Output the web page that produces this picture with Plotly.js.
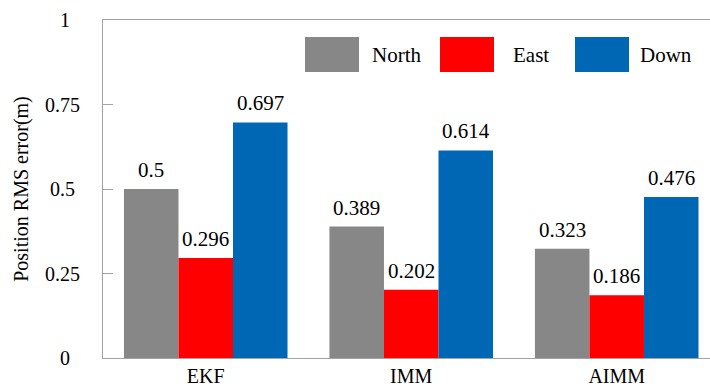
<!DOCTYPE html>
<html>
<head>
<meta charset="utf-8">
<script src="https://cdn.plot.ly/plotly-3.0.1.min.js"></script>
<style>
  html, body { margin: 0; padding: 0; background: #fff; }
  #chart { width: 710px; height: 387px; }
</style>
</head>
<body>
<div id="chart"></div>
<script>
// Position RMS error per filter and axis
var filters = ["EKF", "IMM", "AIMM"];
var seriesNames = ["North", "East", "Down"];
var north = [0.5, 0.389, 0.323];
var east = [0.296, 0.202, 0.186];
var down = [0.697, 0.614, 0.476];
var yTickVals = [0, 0.25, 0.5, 0.75, 1];
var yTickText = ["0", "0.25", "0.5", "0.75", "1"];

var seriesValues = [north, east, down];
var seriesColors = ["#878787", "#ff0000", "#0067b5"];

var FONT = "Liberation Serif";
var W = 710, H = 387;
var M = { l: 103, r: 0, t: 20, b: 29 };
var BARGAP = 0.204;
var plotW = W - M.l - M.r, plotH = H - M.t - M.b;

// padding so the y tick labels sit centred in a common column
function centrePad(s) {
  var widest = 1.75; // em width of "0.75"
  var w = 0;
  for (var i = 0; i < s.length; i++) w += (s[i] === ".") ? 0.25 : 0.5;
  var extra = (widest - w) / 2;
  var pad = "";
  while (extra >= 0.5) { pad += "\u2007"; extra -= 0.5; }
  while (extra >= 0.25) { pad += "\u2008"; extra -= 0.25; }
  return s + pad;
}

var traces = seriesNames.map(function (name, j) {
  return {
    type: "bar",
    name: name,
    x: filters,
    y: seriesValues[j],
    marker: { color: seriesColors[j], line: { width: 0 } },
    hoverinfo: "x+y+name"
  };
});

// value labels above each bar
var annotations = [];
var slot = (1 - BARGAP) / seriesNames.length;
seriesValues.forEach(function (vals, j) {
  vals.forEach(function (v, i) {
    annotations.push({
      x: i + (j - (seriesNames.length - 1) / 2) * slot,
      y: v,
      xref: "x", yref: "y",
      text: String(v),
      showarrow: false,
      yanchor: "middle",
      yshift: 19,
      font: { family: FONT, size: 21, color: "#000" }
    });
  });
});

// legend drawn as large swatches along the top of the plot
function px2x(p) { return (p - M.l) / plotW; }
function px2y(p) { return (H - M.b - p) / plotH; }
var shapes = [];
var legLeft = 305, legStep = 135, swW = 54, swTop = 37, swBot = 72;
seriesNames.forEach(function (name, j) {
  var x0 = legLeft + j * legStep;
  shapes.push({
    type: "rect", xref: "paper", yref: "paper",
    x0: px2x(x0), x1: px2x(x0 + swW),
    y0: px2y(swBot), y1: px2y(swTop),
    fillcolor: seriesColors[j],
    line: { width: 0 }
  });
  annotations.push({
    xref: "paper", yref: "paper",
    x: px2x(x0 + swW + 37), y: px2y((swTop + swBot) / 2),
    xanchor: "center", yanchor: "middle",
    text: name, showarrow: false,
    font: { family: FONT, size: 21, color: "#000" }
  });
});

var layout = {
  width: W, height: H,
  margin: M,
  paper_bgcolor: "#fff",
  plot_bgcolor: "#fff",
  showlegend: false,
  barmode: "group",
  bargap: BARGAP,
  bargroupgap: 0,
  font: { family: FONT, size: 20, color: "#000" },
  xaxis: {
    type: "category",
    range: [-0.5, 2.454],
    showline: true, linecolor: "#a3a3a3", linewidth: 1,
    mirror: true,
    ticks: "",
    showgrid: false, zeroline: false,
    tickfont: { family: FONT, size: 20, color: "#000" },
    automargin: false
  },
  yaxis: {
    range: [0, 1],
    tickvals: yTickVals,
    ticktext: yTickText.map(centrePad),
    ticks: "inside", ticklen: 10, tickwidth: 1, tickcolor: "#a3a3a3",
    showline: true, linecolor: "#a3a3a3", linewidth: 1,
    showgrid: false, zeroline: false,
    ticklabelstandoff: 18,
    tickfont: { family: FONT, size: 20, color: "#000" },
    title: { text: "Position RMS error(m)", font: { family: FONT, size: 20, color: "#000" }, standoff: 11 },
    automargin: false
  },
  annotations: annotations,
  shapes: shapes
};

Plotly.newPlot("chart", traces, layout, { displayModeBar: false, staticPlot: true });
</script>
</body>
</html>
